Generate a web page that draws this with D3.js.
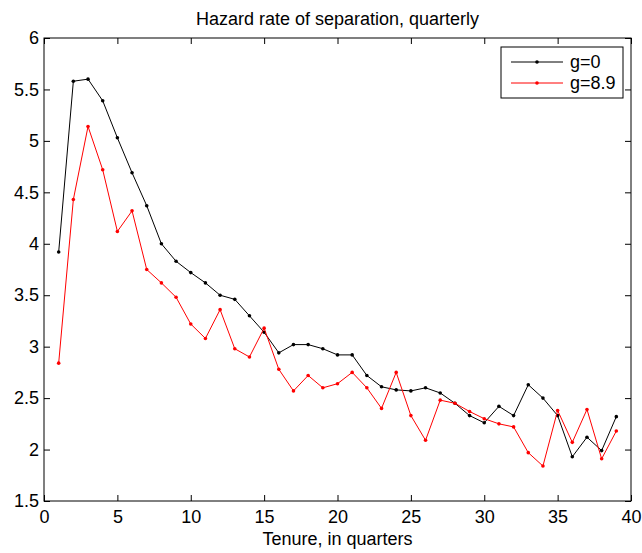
<!doctype html>
<html lang="en">
<head>
<meta charset="utf-8">
<title>Hazard rate of separation, quarterly</title>
<style>
body { margin: 0; background: #fff; }
svg text { font-family: "Liberation Sans", Arial, Helvetica, sans-serif; fill: #000; }
</style>
</head>
<body>
<div id="chart"></div>
<script src="https://d3js.org/d3.v7.min.js"></script>
<script>
// tenure in quarters
var tenure = [1, 2, 3, 4, 5, 6, 7, 8, 9, 10, 11, 12, 13, 14, 15, 16, 17, 18, 19, 20,
              21, 22, 23, 24, 25, 26, 27, 28, 29, 30, 31, 32, 33, 34, 35, 36, 37, 38, 39];

// g=0 (black)
var rateG0 = [3.92, 5.58, 5.60, 5.39, 5.03, 4.69, 4.37, 4.00, 3.83, 3.72,
              3.62, 3.50, 3.46, 3.30, 3.14, 2.94, 3.02, 3.02, 2.98, 2.92,
              2.92, 2.72, 2.61, 2.58, 2.57, 2.60, 2.55, 2.45, 2.33, 2.26,
              2.42, 2.33, 2.63, 2.50, 2.33, 1.93, 2.12, 1.99, 2.32];

// g=8.9 (red)
var rateG89 = [2.84, 4.43, 5.14, 4.72, 4.12, 4.32, 3.75, 3.62, 3.48, 3.22,
               3.08, 3.36, 2.98, 2.90, 3.18, 2.78, 2.57, 2.72, 2.60, 2.64,
               2.75, 2.60, 2.40, 2.75, 2.33, 2.09, 2.48, 2.45, 2.37, 2.30,
               2.25, 2.22, 1.97, 1.84, 2.38, 2.07, 2.39, 1.91, 2.18];

var xTicks = [0, 5, 10, 15, 20, 25, 30, 35, 40];
var yTicks = [1.5, 2, 2.5, 3, 3.5, 4, 4.5, 5, 5.5, 6];

var series = [
    {name: "g=0", values: rateG0, color: "#000000"},
    {name: "g=8.9", values: rateG89, color: "#ff0000"}
];

var width = 642, height = 553;
var margin = {top: 38, right: 11, bottom: 52, left: 44};
var fontSize = 18;

var svg = d3.select("#chart").append("svg")
    .attr("width", width)
    .attr("height", height);

var x = d3.scaleLinear().domain([0, 40]).range([margin.left, width - margin.right]);
var y = d3.scaleLinear().domain([1.5, 6]).range([height - margin.bottom, margin.top]);

function styleAxis(g) {
    g.select(".domain").remove();
    g.selectAll(".tick line").attr("stroke", "#000");
    g.selectAll(".tick text")
        .style("font-size", fontSize + "px")
        .attr("fill", "#000");
}

// ticks point inward, mirrored on top and right like a boxed plot
svg.append("g")
    .attr("transform", "translate(0," + y.range()[0] + ")")
    .call(d3.axisBottom(x).tickValues(xTicks).tickSizeInner(-6).tickSizeOuter(0).tickPadding(9))
    .call(styleAxis);

svg.append("g")
    .attr("transform", "translate(0," + y.range()[1] + ")")
    .call(d3.axisTop(x).tickValues(xTicks).tickSizeInner(-6).tickSizeOuter(0).tickFormat(""))
    .call(styleAxis);

svg.append("g")
    .attr("transform", "translate(" + x.range()[0] + ",0)")
    .call(d3.axisLeft(y).tickValues(yTicks).tickSizeInner(-6).tickSizeOuter(0).tickPadding(5)
        .tickFormat(function(d) { return String(d); }))
    .call(styleAxis);

svg.append("g")
    .attr("transform", "translate(" + x.range()[1] + ",0)")
    .call(d3.axisRight(y).tickValues(yTicks).tickSizeInner(-6).tickSizeOuter(0).tickFormat(""))
    .call(styleAxis);

// plot box
svg.append("rect")
    .attr("x", x.range()[0])
    .attr("y", y.range()[1])
    .attr("width", x.range()[1] - x.range()[0])
    .attr("height", y.range()[0] - y.range()[1])
    .attr("fill", "none")
    .attr("stroke", "#000")
    .attr("stroke-width", 1);

var line = d3.line()
    .x(function(d, i) { return x(tenure[i]); })
    .y(function(d) { return y(d); });

var groups = svg.selectAll(".series")
    .data(series)
    .enter().append("g")
    .attr("class", "series");

groups.append("path")
    .attr("d", function(s) { return line(s.values); })
    .attr("fill", "none")
    .attr("stroke", function(s) { return s.color; })
    .attr("stroke-width", 1);

groups.selectAll("circle")
    .data(function(s) { return s.values.map(function(v, i) { return {t: tenure[i], v: v, color: s.color}; }); })
    .enter().append("circle")
    .attr("cx", function(d) { return x(d.t); })
    .attr("cy", function(d) { return y(d.v); })
    .attr("r", 1.8)
    .attr("fill", function(d) { return d.color; });

// title and axis label
var cx = (x.range()[0] + x.range()[1]) / 2;
svg.append("text")
    .attr("x", cx)
    .attr("y", 25)
    .attr("text-anchor", "middle")
    .style("font-size", fontSize + "px")
    .text("Hazard rate of separation, quarterly");

svg.append("text")
    .attr("x", cx)
    .attr("y", 545)
    .attr("text-anchor", "middle")
    .style("font-size", fontSize + "px")
    .text("Tenure, in quarters");

// legend
var legend = svg.append("g").attr("transform", "translate(501,47)");
legend.append("rect")
    .attr("width", 122)
    .attr("height", 51)
    .attr("fill", "#fff")
    .attr("stroke", "#000")
    .attr("stroke-width", 1);

var items = legend.selectAll(".item")
    .data(series)
    .enter().append("g")
    .attr("class", "item")
    .attr("transform", function(d, i) { return "translate(0," + (15 + i * 21) + ")"; });

items.append("line")
    .attr("x1", 10).attr("x2", 62)
    .attr("stroke", function(d) { return d.color; })
    .attr("stroke-width", 1);

items.append("circle")
    .attr("cx", 36)
    .attr("r", 1.8)
    .attr("fill", function(d) { return d.color; });

items.append("text")
    .attr("x", 69)
    .attr("dy", "0.35em")
    .style("font-size", fontSize + "px")
    .text(function(d) { return d.name; });
</script>
</body>
</html>
